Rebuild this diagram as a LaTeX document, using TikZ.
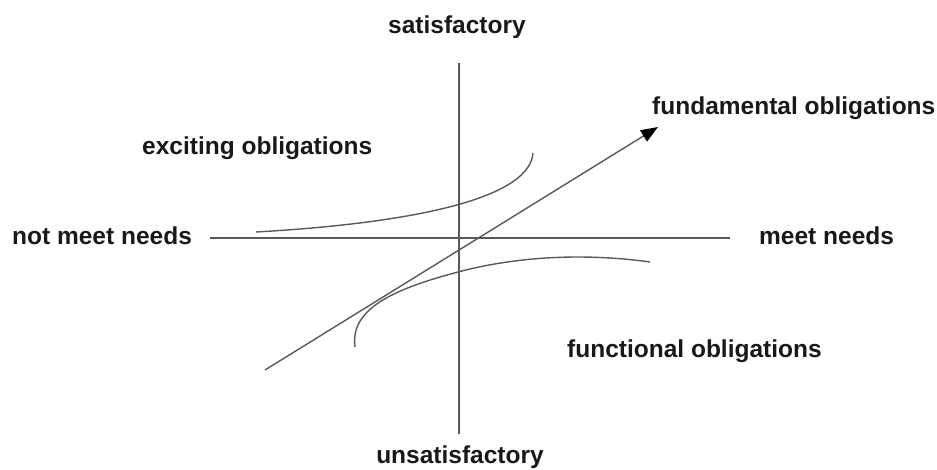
\documentclass[tikz,border=0pt]{standalone}
\usepackage{fontspec}
\setmainfont{Liberation Sans}
\usetikzlibrary{arrows.meta}
\begin{document}
\begin{tikzpicture}[x=1pt,y=-1pt,
  axis/.style={draw=black!65,line width=1.6pt},
  curve/.style={draw=black!65,line width=1.4pt},
  lbl/.style={font=\fontsize{24.5}{26}\selectfont\bfseries,text=black!90,inner sep=0pt}]
\useasboundingbox (0,0) rectangle (937,470);
% axes
\coordinate (vtop) at (459,63);
\coordinate (vbot) at (459,434);
\coordinate (hl) at (210,238);
\coordinate (hr) at (730,238);
\draw[axis] (vtop) -- (vbot);
\draw[axis] (hl) -- (hr);
% labels
\node[lbl] (sat) at (457,27) {satisfactory};
\node[lbl] (unsat) at (460,457) {unsatisfactory};
\node[lbl,anchor=west] (notmeet) at (12,236) {not meet needs};
\node[lbl,anchor=west] (meet) at (759,236) {meet needs};
\node[lbl,anchor=west] (exc) at (142,148) {exciting obligations};
\node[lbl,anchor=west] (fund) at (652,108) {fundamental obligations};
\node[lbl,anchor=west] (func) at (567,351) {functional obligations};
% exciting obligations curve
\coordinate (e0) at (256,232);
\coordinate (e1) at (533,153);
\draw[curve] (e0) .. controls (430,222) and (530,195) .. (e1);
% functional obligations curve
\coordinate (f0) at (355,347);
\coordinate (fm) at (458,272);
\coordinate (f1) at (650,262);
\draw[curve] (f0) .. controls (350,310) and (390,290) .. (fm)
  .. controls (530,253) and (600,255) .. (f1);
% fundamental obligations arrow
\coordinate (a0) at (265,370);
\coordinate (a1) at (658,127);
\draw[curve,-{Triangle[length=17pt,width=13pt,color=black]}] (a0) -- (a1);
\end{tikzpicture}
\end{document}
